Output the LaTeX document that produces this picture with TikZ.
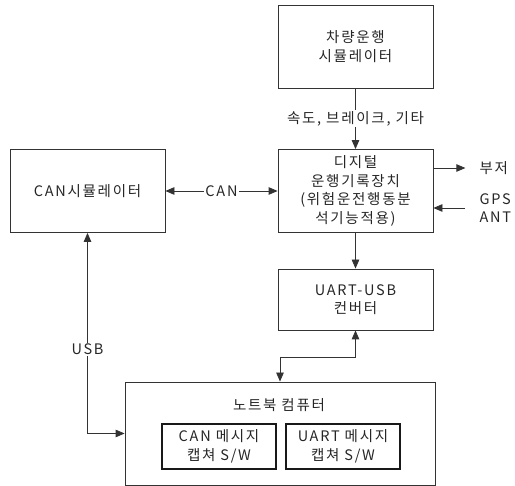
\documentclass[tikz,border=0pt]{standalone}
\usepackage{fontspec}
\setmainfont[LetterSpace=12]{Noto Sans CJK KR}
\usetikzlibrary{positioning, arrows.meta}

\begin{document}
\begin{tikzpicture}[x=1pt, y=-1pt, on grid,
    >={Triangle[length=9pt, width=7.5pt]},
    every node/.style={font=\fontsize{14.5}{18.5}\selectfont, text=black!85},
    block/.style={draw=black!80, line width=0.8pt, align=center,
        minimum width=155pt, minimum height=83pt, inner sep=0pt},
    swbox/.style={draw=black!90, line width=1.4pt, align=center,
        minimum width=114pt, minimum height=45pt, inner sep=0pt},
    conn/.style={draw=black!80, line width=0.8pt},
    tag/.style={fill=white, inner sep=1pt}]
    \useasboundingbox (0,0) rectangle (515,486);

    \node[block] (dtg) at (355.5,191) {디지털\\운행기록장치\\(위험운전행동분\\석기능적용)};
    \node[block] (veh) [above=144.5pt of dtg] {차량운행\\시뮬레이터};
    \node[block] (canSim) [left=268pt of dtg] {CAN시뮬레이터};
    \node[block, minimum height=61pt] (uart) [below=108.5pt of dtg] {UART-USB\\컨버터};
    \node[block, minimum width=310pt, minimum height=103pt] (nb) at (280,433.5) {};
    \node (nbTitle) at (279,405) {노트북 컴퓨터};
    \node[swbox] (canSw) at (219,446.5) {CAN 메시지\\캡쳐 S/W};
    \node[swbox] (uartSw) [right=124pt of canSw] {UART 메시지\\캡쳐 S/W};
    \node[anchor=west] (buzzer) at (476,168) {부저};
    \node[anchor=west, align=left] (gps) at (476,208) {GPS\\ANT};

    \path[conn, ->]
        (veh) -- node[tag] {속도, 브레이크, 기타} (dtg);
    \path[conn, <->]
        (canSim) -- node[tag] {CAN} (dtg);
    \path[conn, ->] (buzzer.west -| dtg.east) -- ++(32,0);
    \path[conn, ->] (gps.west) ++(-11,0) -- (gps.west -| dtg.east);
    \path[conn, ->] (dtg) -- (uart);
    \path[conn, <->] (uart.south) -- ++(0,27) -| (nb.north);
    \path[conn, <->]
        (canSim.south) |- node[tag, pos=0.29] {USB} (nb.west);

\end{tikzpicture}
\end{document}
